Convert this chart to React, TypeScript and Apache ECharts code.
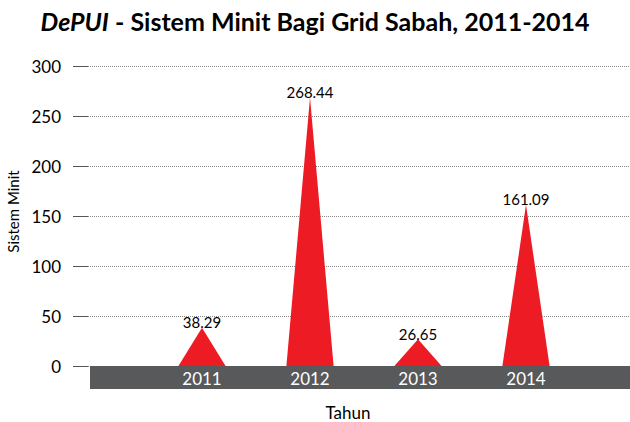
import React, { useEffect, useRef } from "react";
import * as echarts from "echarts";

const years = ["2011", "2012", "2013", "2014"];
const sistemMinit = [38.29, 268.44, 26.65, 161.09];
const yMin = 0;
const yMax = 300;
const yStep = 50;

const FONT = "Lato, 'Open Sans', sans-serif";

export default function App() {
  const ref = useRef<HTMLDivElement>(null);
  useEffect(() => {
    if (!ref.current) return;
    const chart = echarts.init(ref.current, undefined, { renderer: "svg" });
    chart.setOption({
      animation: false,
      backgroundColor: "#ffffff",
      textStyle: { fontFamily: FONT },
      title: {
        text: "{i|DePUI}{n| - Sistem Minit Bagi Grid Sabah, 2011-2014}",
        left: "center",
        top: 3,
        textStyle: {
          rich: {
            i: { fontFamily: FONT, fontSize: 25, fontWeight: "bold", fontStyle: "italic", color: "#000" },
            n: { fontFamily: FONT, fontSize: 25, fontWeight: "bold", color: "#000" },
          },
        },
      },
      grid: [
        { left: 148, right: 50, top: 66, bottom: 56, outerBoundsMode: "none", containLabel: false },
        { left: 88, right: 0, top: 66, bottom: 56, outerBoundsMode: "none", containLabel: false },
        { left: 90, right: 0, top: 66, bottom: 44.5, outerBoundsMode: "none", containLabel: false },
      ],
      xAxis: [
        {
          type: "category",
          gridIndex: 0,
          data: years,
          z: 5,
          axisLine: { show: false },
          axisTick: { show: false },
          axisLabel: { color: "#ffffff", fontSize: 17, margin: 4, fontFamily: FONT },
          name: "Tahun",
          nameLocation: "middle",
          nameGap: 38,
          nameTextStyle: { color: "#000", fontSize: 17, fontFamily: FONT, padding: [0, 32, 0, 0] },
        },
        {
          type: "value",
          gridIndex: 1,
          min: 0,
          max: 1,
          show: false,
        },
        {
          type: "value",
          gridIndex: 2,
          min: 0,
          max: 1,
          z: 1,
          axisLine: { show: true, lineStyle: { color: "#58595B", width: 23, cap: "butt" } },
          axisTick: { show: false },
          axisLabel: { show: false },
          splitLine: { show: false },
        },
      ],
      yAxis: [
        {
          type: "value",
          gridIndex: 0,
          min: yMin,
          max: yMax,
          interval: yStep,
          show: false,
          splitLine: { show: false },
        },
        {
          type: "value",
          gridIndex: 1,
          min: yMin,
          max: yMax,
          interval: yStep,
          axisLine: { show: false },
          axisTick: { show: true, length: 15, lineStyle: { color: "#555", width: 1 } },
          axisLabel: { color: "#000", fontSize: 17, margin: 27, fontFamily: FONT },
          splitLine: { show: true, lineStyle: { color: "#888", type: [1, 1], width: 1 } },
          name: "Sistem Minit",
          nameLocation: "middle",
          nameGap: 64,
          nameRotate: 90,
          nameTextStyle: { color: "#000", fontSize: 15, fontFamily: FONT, padding: [0, 0, 0, 9] },
        },
        {
          type: "value",
          gridIndex: 2,
          min: 0,
          max: 1,
          show: false,
          splitLine: { show: false },
        },
      ],
      series: [
        {
          type: "pictorialBar",
          xAxisIndex: 0,
          yAxisIndex: 0,
          data: sistemMinit,
          symbol: "triangle",
          symbolSize: [47, "100%"],
          z: 3,
          itemStyle: { color: "#ED1C24" },
          label: {
            show: true,
            position: "top",
            distance: -2,
            color: "#000",
            fontSize: 15,
            fontFamily: FONT,
            formatter: (p: any) => Number(p.value).toFixed(2),
          },
        },
      ],
    });
    return () => chart.dispose();
  }, []);
  return (
    <div
      ref={ref}
      style={{ position: "absolute", left: 0, top: 0, width: 630, height: 422 }}
    />
  );
}
